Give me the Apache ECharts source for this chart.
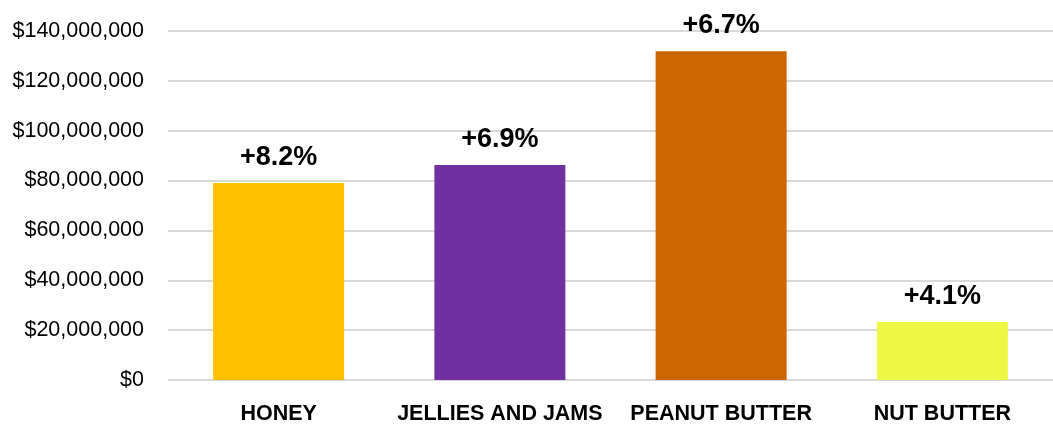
<!DOCTYPE html>
<html>
<head>
<meta charset="utf-8">
<script src="https://cdn.jsdelivr.net/npm/echarts@6/dist/echarts.min.js"></script>
<style>
html,body{margin:0;padding:0;background:#fff;}
#chart{width:1053px;height:427px;}
</style>
</head>
<body>
<div id="chart"></div>
<script>
var categories = ['HONEY', 'JELLIES AND JAMS', 'PEANUT BUTTER', 'NUT BUTTER'];
var sales = [79000000, 86200000, 131900000, 23300000];
var changes = ['+8.2%', '+6.9%', '+6.7%', '+4.1%'];
var barColors = ['#FFC000', '#7030A0', '#CC6600', '#EDF745'];
var yMin = 0, yMax = 140000000, yStep = 20000000;

function money(v) {
  return '$' + String(Math.round(v)).replace(/\B(?=(\d{3})+(?!\d))/g, ',');
}

var chart = echarts.init(document.getElementById('chart'));
chart.setOption({
  animation: false,
  backgroundColor: '#fff',
  grid: { left: 168, right: -6, top: 31, bottom: 47, containLabel: false },
  xAxis: {
    type: 'category',
    data: categories,
    axisLine: { show: false },
    axisTick: { show: false },
    axisLabel: {
      interval: 0,
      margin: 23,
      color: '#000',
      fontFamily: 'Liberation Sans',
      fontWeight: 'bold',
      fontSize: 21.5
    }
  },
  yAxis: {
    type: 'value',
    min: yMin, max: yMax, interval: yStep,
    axisLine: { show: false },
    axisTick: { show: false },
    splitLine: { lineStyle: { color: '#D9D9D9', width: 2 } },
    axisLabel: {
      margin: 24,
      color: '#000',
      fontFamily: 'Liberation Sans',
      fontSize: 21.5,
      formatter: money
    }
  },
  series: [{
    type: 'bar',
    barWidth: 131,
    data: sales.map(function (v, i) {
      return { value: v, itemStyle: { color: barColors[i] } };
    }),
    label: {
      show: true,
      position: 'top',
      distance: 12,
      color: '#000',
      fontFamily: 'Liberation Sans',
      fontWeight: 'bold',
      fontSize: 27,
      formatter: function (p) { return changes[p.dataIndex]; }
    }
  }]
});
</script>
</body>
</html>
